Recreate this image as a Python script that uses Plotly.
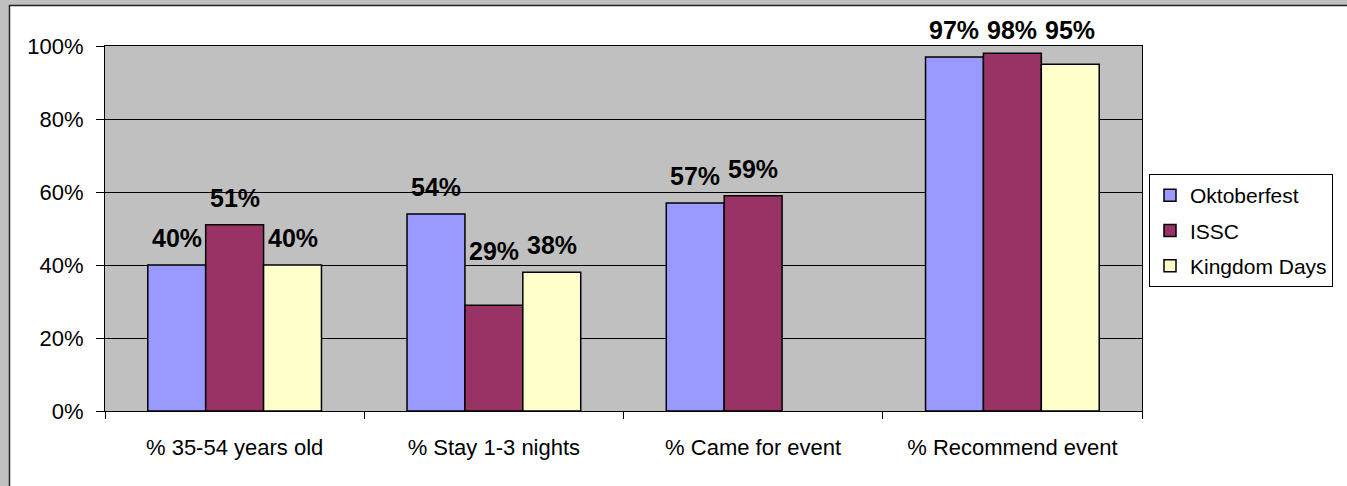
import plotly.graph_objects as go

categories = ["% 35-54 years old", "% Stay 1-3 nights", "% Came for event", "% Recommend event"]
series_names = ["Oktoberfest", "ISSC", "Kingdom Days"]
oktoberfest = [0.40, 0.54, 0.57, 0.97]
issc = [0.51, 0.29, 0.59, 0.98]
kingdom_days = [0.40, 0.38, None, 0.95]
colors = ["#9999FF", "#993366", "#FFFFCC"]
y_ticks = [0, 0.2, 0.4, 0.6, 0.8, 1.0]

W, H = 1347, 486
L, R, T, B = 105, 205, 46, 75
bargap = 0.33
FONT = "Liberation Sans, Arial, sans-serif"
# label anchor levels where Excel shifted the data labels
LABEL_LEVEL_OVERRIDE = {(1, 1): 0.365, (0, 3): 0.97, (1, 3): 0.97, (2, 3): 0.97}

fig = go.Figure()
all_series = [oktoberfest, issc, kingdom_days]
for name, vals, col in zip(series_names, all_series, colors):
    fig.add_trace(go.Bar(
        name=name, x=categories, y=vals, legendgroup=name,
        marker=dict(color=col, line=dict(color="black", width=1.5)),
        hoverinfo="skip",
    ))

# data labels placed above bars (Excel style gap)
n = len(all_series)
bw = (1 - bargap) / n
annotations = []
for i, vals in enumerate(all_series):
    for j, v in enumerate(vals):
        if v is None:
            continue
        ly = LABEL_LEVEL_OVERRIDE.get((i, j), v)
        annotations.append(dict(
            x=j + (i - (n - 1) / 2) * bw, y=ly, xref="x", yref="y",
            text=f"{v:.0%}", showarrow=False, yanchor="bottom", yshift=11,
            font=dict(family=FONT, size=25, color="black", weight="bold"),
        ))

pw = W - L - R
ph = H - T - B
def px(xp):
    return (xp - L) / pw
def py(yp):
    return (H - B - yp) / ph

shapes = [
    dict(type="rect", xref="paper", yref="paper", x0=px(0), x1=px(W + 5), y0=py(0), y1=py(5),
         fillcolor="#C0C0C0", line=dict(width=0), layer="above"),
    dict(type="rect", xref="paper", yref="paper", x0=px(0), x1=px(9), y0=py(0), y1=py(H + 5),
         fillcolor="#C0C0C0", line=dict(width=0), layer="above"),
    dict(type="line", xref="paper", yref="paper", x0=px(9), x1=px(W + 5), y0=py(5.5), y1=py(5.5),
         line=dict(color="#222222", width=1.5), layer="above"),
    dict(type="line", xref="paper", yref="paper", x0=px(9.5), x1=px(9.5), y0=py(5), y1=py(H + 5),
         line=dict(color="#222222", width=1.5), layer="above"),
]

fig.update_layout(
    width=W, height=H,
    margin=dict(l=L, r=R, t=T, b=B, autoexpand=False),
    paper_bgcolor="white", plot_bgcolor="#C0C0C0",
    barmode="group", bargap=bargap, bargroupgap=0,
    font=dict(family=FONT, size=22, color="black"),
    annotations=annotations, shapes=shapes,
    legend=dict(
        x=px(1149), y=py(174), xanchor="left", yanchor="top",
        bordercolor="black", borderwidth=1, bgcolor="white",
        font=dict(family=FONT, size=21, color="black"),
        traceorder="grouped", tracegroupgap=5, itemwidth=30,
        itemclick=False,
    ),
    showlegend=True,
)
fig.update_xaxes(
    type="category", showline=True, mirror=True, linecolor="black", linewidth=1,
    ticks="outside", tickson="boundaries", ticklen=7, tickcolor="black",
    ticklabelstandoff=17, showgrid=False,
)
fig.update_yaxes(
    range=[0, 1], tickvals=y_ticks, tickformat=".0%",
    showline=True, mirror=True, linecolor="black", linewidth=1,
    ticks="outside", ticklen=8, tickcolor="black", ticklabelstandoff=8,
    showgrid=True, gridcolor="black", gridwidth=1, zeroline=False,
)

fig.write_html("out.html")
